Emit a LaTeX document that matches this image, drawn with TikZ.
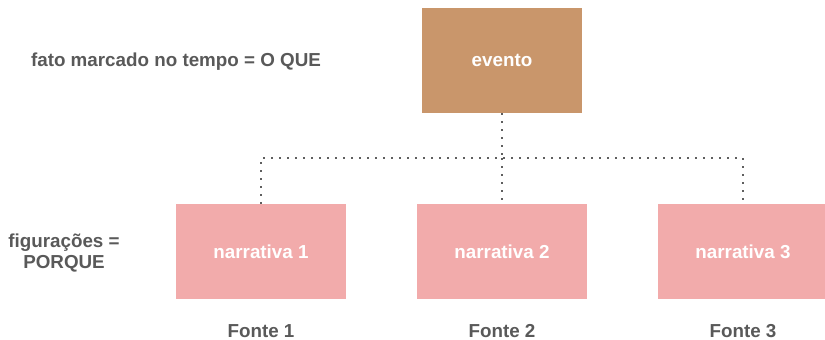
\documentclass[tikz,border=0pt]{standalone}
\usepackage{fontspec}
\setmainfont{Liberation Sans}
\definecolor{evcol}{HTML}{C9966B}
\definecolor{nacol}{HTML}{F2ABAB}
\definecolor{txtcol}{HTML}{595959}
\definecolor{dotcol}{HTML}{5E5E5E}
\tikzset{
  evbox/.style={rectangle, fill=evcol, minimum width=160pt, minimum height=105pt, inner sep=0pt, text=white, font=\fontsize{18.8}{21}\selectfont\bfseries},
  nabox/.style={rectangle, fill=nacol, minimum width=170pt, minimum height=95pt, inner sep=0pt, text=white, font=\fontsize{18.8}{21}\selectfont\bfseries},
  lbl/.style={text=txtcol, inner sep=0pt, align=center, font=\fontsize{18.8}{21}\selectfont\bfseries},
  dotline/.style={draw=dotcol, line width=1.9pt, dash pattern=on 1.9pt off 6.1pt}
}
\begin{document}
\begin{tikzpicture}[x=1pt,y=-1pt]
\useasboundingbox (0,0) rectangle (825,340);
\node[evbox] (ev) at (502,60.5) {evento};
\node[nabox] (n1) at (261,251.5) {narrativa 1};
\node[nabox] (n2) at (502,251.5) {narrativa 2};
\node[nabox] (n3) at (743,251.5) {narrativa 3};
\node[lbl] (fato) at (176,62) {fato marcado no tempo = O QUE};
\node[lbl] (fig) at (64,253) {figurações =\\PORQUE};
\node[lbl] (f1) at (261,331) {Fonte 1};
\node[lbl] (f2) at (502,331) {Fonte 2};
\node[lbl] (f3) at (743,331) {Fonte 3};
\coordinate (j) at (502,158);
\draw[dotline] (ev.south) -- (j);
\draw[dotline] (n1.north) |- (j) -| (n3.north);
\draw[dotline] (j) -- (n2.north);
\end{tikzpicture}
\end{document}
